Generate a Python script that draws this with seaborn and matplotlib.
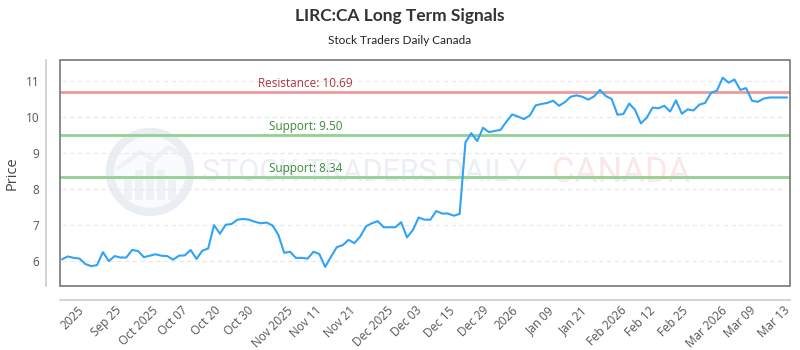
import numpy as np
import pandas as pd
import matplotlib
matplotlib.use("Agg")
import matplotlib.pyplot as plt
import seaborn as sns
from matplotlib.patches import Circle, Rectangle
from matplotlib.transforms import IdentityTransform

# ---- data ----
prices = [6.05, 6.13, 6.09, 6.07, 5.92, 5.86, 5.89, 6.25, 6.00, 6.14,
          6.10, 6.10, 6.31, 6.28, 6.11, 6.15, 6.19, 6.15, 6.14, 6.04,
          6.15, 6.16, 6.31, 6.06, 6.29, 6.35, 7.00, 6.76, 7.01, 7.03,
          7.15, 7.17, 7.15, 7.09, 7.05, 7.07, 6.99, 6.73, 6.23, 6.26,
          6.09, 6.09, 6.07, 6.26, 6.20, 5.84, 6.12, 6.39, 6.44, 6.59,
          6.50, 6.68, 6.97, 7.05, 7.11, 6.94, 6.94, 6.94, 7.08, 6.66,
          6.86, 7.21, 7.15, 7.15, 7.39, 7.32, 7.32, 7.26, 7.31, 9.30,
          9.55, 9.33, 9.70, 9.58, 9.61, 9.64, 9.87, 10.07, 10.01, 9.94,
          10.04, 10.32, 10.36, 10.39, 10.45, 10.31, 10.41, 10.56, 10.60, 10.56,
          10.48, 10.57, 10.75, 10.58, 10.50, 10.06, 10.08, 10.37, 10.20, 9.82,
          9.98, 10.26, 10.24, 10.31, 10.15, 10.46, 10.09, 10.21, 10.18, 10.34,
          10.39, 10.67, 10.73, 11.09, 10.95, 11.04, 10.75, 10.80, 10.45, 10.42,
          10.51, 10.54, 10.54, 10.54, 10.54]
tick_labels = ["2025", "Sep 25", "Oct 2025", "Oct 07", "Oct 20", "Oct 30",
               "Nov 2025", "Nov 11", "Nov 21", "Dec 2025", "Dec 03", "Dec 15",
               "Dec 29", "2026", "Jan 09", "Jan 21", "Feb 2026", "Feb 12",
               "Feb 25", "Mar 2026", "Mar 09", "Mar 13"]
resistance = [10.69]
supports = [9.50, 8.34]

title = "LIRC:CA Long Term Signals"
subtitle = "Stock Traders Daily Canada"

df = pd.DataFrame({"idx": np.arange(len(prices)), "price": prices})

sns.set_theme(style="white")
plt.rcParams["font.family"] = ["Open Sans", "DejaVu Sans"]

fig = plt.figure(figsize=(8, 3.5), dpi=100)
ax = fig.add_axes([60 / 800, 1 - 286 / 350, 730 / 800, 226 / 350])

# watermark
wm_col = "#eaeef3"
ax.add_patch(Circle((150, 350 - 172), 40, transform=IdentityTransform(),
                    facecolor="#fafbfc", edgecolor=wm_col, lw=6, zorder=0.2))
for bx, bh in [(128, 22), (139, 30), (150, 38), (161, 30), (172, 20)]:
    ax.add_patch(Rectangle((bx - 4, 350 - 200), 8, bh, transform=IdentityTransform(),
                           facecolor="#eef1f5", edgecolor="none", zorder=0.3))
ax.plot([118, 140, 155, 168, 182], [350 - 168, 350 - 152, 350 - 160, 350 - 147, 350 - 155],
        transform=IdentityTransform(), color="#eef1f5", lw=3, zorder=0.3)
ax.text(365 / 800, 1 - 173 / 350, "STOCK TRADERS DAILY", transform=fig.transFigure,
        ha="center", va="center", fontsize=22, color="#ebeff4",
        family="Roboto", zorder=0.3)
ax.text(621 / 800, 1 - 173 / 350, "CANADA", transform=fig.transFigure,
        ha="center", va="center", fontsize=25, color="#fce6e6",
        family="Roboto", zorder=0.3)

# grid
for v in range(6, 12):
    ax.axhline(v, xmin=0.003, xmax=0.99, color="#e4e7ec", lw=0.8, ls=(0, (4, 3)), zorder=0.5)

# levels
for r in resistance:
    ax.axhline(r, color="#ef9a9a", lw=2, zorder=1)
    ax.text(0.336, r + 0.06, f"Resistance: {r:.2f}", transform=ax.get_yaxis_transform(),
            ha="center", va="bottom", fontsize=8.5, color="#b0343c")
for s in supports:
    ax.axhline(s, color="#92d192", lw=2, zorder=1)
    ax.text(0.336, s + 0.06, f"Support: {s:.2f}", transform=ax.get_yaxis_transform(),
            ha="center", va="bottom", fontsize=8.5, color="#3a8a3a")

sns.lineplot(data=df, x="idx", y="price", ax=ax, color="#31a3f5", lw=1.5, zorder=3)

ax.set_xlim(-0.34, 124.5)
ax.set_ylim(5.31, 11.58)

ax.set_yticks(range(6, 12))
ax.set_yticklabels([str(v) for v in range(6, 12)])
ax.set_xticks(np.linspace(1.8, 121.75, len(tick_labels)))
ax.set_xticklabels(tick_labels)
ax.tick_params(axis="both", length=0, labelsize=8.5, labelcolor="#555555")
ax.tick_params(axis="x", pad=3, labelrotation=45)
ax.tick_params(axis="y", pad=5)
for lab in ax.get_xticklabels():
    lab.set_horizontalalignment("right")
    lab.set_verticalalignment("center")
    lab.set_rotation_mode("anchor")
ax.set_xlabel("")
ax.set_ylabel("Price", fontsize=10.5, color="#444444", labelpad=4)

# frame + offset axis lines
for side in ["top", "right"]:
    ax.spines[side].set_visible(False)
for side in ["left", "bottom"]:
    ax.spines[side].set_position(("outward", 10))
    ax.spines[side].set_color("#cccccc")
    ax.spines[side].set_linewidth(1.2)
ax.add_patch(Rectangle((0, 0), 1, 1, transform=ax.transAxes, fill=False,
                       edgecolor="#777777", lw=1.2, clip_on=False, zorder=4))

fig.text(0.5, 1 - 16 / 350, title, ha="center", va="center", fontsize=12.5,
         fontweight="bold", color="#333333", family=["Lato", "DejaVu Sans"])
fig.text(0.5, 1 - 40 / 350, subtitle, ha="center", va="center", fontsize=8.5,
         color="#222222", family=["Lato", "DejaVu Sans"])

fig.savefig("out.png", dpi=100)
